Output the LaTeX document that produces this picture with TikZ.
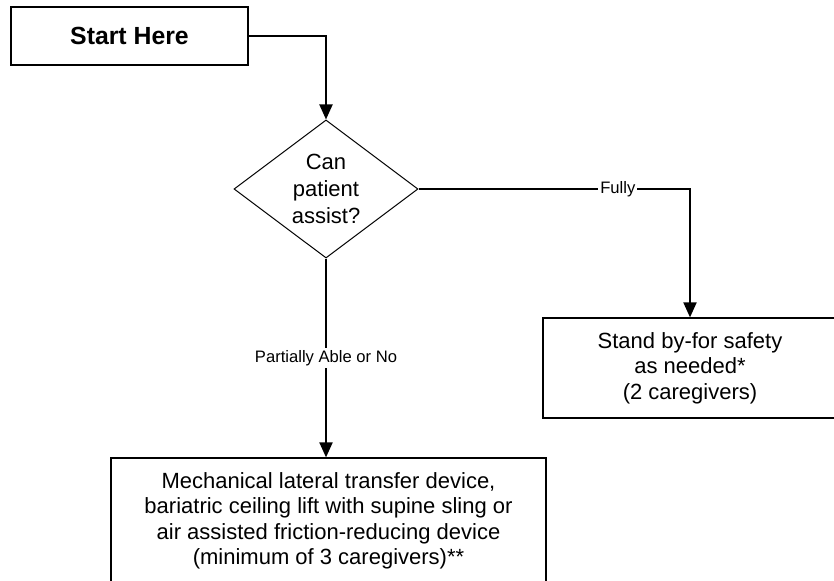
\documentclass[tikz,border=0pt]{standalone}
\usepackage{fontspec}
\setmainfont{Liberation Sans}
\usepackage{xcolor}
\usetikzlibrary{positioning,arrows.meta,shapes.geometric}

\tikzset{
  box/.style={draw, line width=0.6pt, align=center, inner sep=0pt,
    font=\fontsize{11}{12.7}\selectfont},
  decision/.style={diamond, draw, line width=0.5pt, align=center, inner sep=0pt,
    minimum width=92pt, minimum height=68pt, font=\fontsize{11}{13.5}\selectfont},
  link/.style={line width=1pt, -{Triangle[length=7.5pt,width=6.5pt]}},
  tag/.style={fill=white, inner sep=1pt, font=\fontsize{8.3}{10}\selectfont}
}

\begin{document}
\begin{tikzpicture}[x=0.5pt, y=-0.5pt]
\useasboundingbox (0,0) rectangle (834,581);

\node[box, minimum width=118.5pt, minimum height=29pt,
  font=\fontsize{12.4}{14}\selectfont\bfseries] (start) at (129.5,36) {Start Here};
\node[decision] (assist) at (326,189) {Can\\patient\\assist?};
\node[box, minimum width=147pt, minimum height=50pt] (standby) at (690,368)
  {Stand by-for safety\\as needed*\\(2 caregivers)};
\node[box, minimum width=217.5pt, minimum height=63pt] (mech) at (328.5,521)
  {Mechanical lateral transfer device,\\bariatric ceiling lift with supine sling or\\
   air assisted friction-reducing device\\(minimum of 3 caregivers)**};

\draw[link] (start.east) -| (assist.north);
\draw[link] (assist.east) -| node[tag, pos=0.367] {Fully} (standby.north);
\draw[link] (assist.south) -- node[tag] {Partially Able or No} (assist.south |- mech.north);
\end{tikzpicture}
\end{document}
